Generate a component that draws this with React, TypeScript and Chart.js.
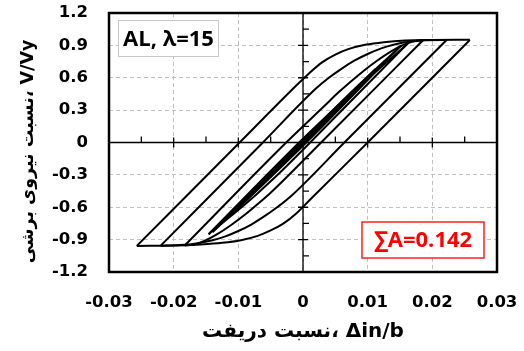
import React, { useEffect, useRef } from "react";
import { Chart, registerables } from "chart.js";

Chart.register(...registerables);

// ---- axis ticks ----
const xTickValues = [-0.03, -0.02, -0.01, 0, 0.01, 0.02, 0.03];
const xTickLabels = ["-0.03", "-0.02", "-0.01", "0", "0.01", "0.02", "0.03"];
const yTickValues = [-1.2, -0.9, -0.6, -0.3, 0, 0.3, 0.6, 0.9, 1.2];
const yTickLabels = ["-1.2", "-0.9", "-0.6", "-0.3", "0", "0.3", "0.6", "0.9", "1.2"];
const xMinorTicks = [-0.025, -0.015, -0.005, 0.005, 0.015, 0.025];
const yMinorTicks = [-1.05, -0.75, -0.45, -0.15, 0.15, 0.45, 0.75, 1.05];

// ---- hysteresis branches (drift ratio, V/Vy) ----
const loop1DownDrift = [-0.0257, -0.02, -0.0158, -0.0125, -0.0096, -0.007, -0.005, -0.003, -0.001, 0.001, 0.01, 0.0258];
const loop1DownForce = [-0.958, -0.955, -0.945, -0.93, -0.905, -0.865, -0.815, -0.75, -0.655, -0.535, 0.0, 0.95];
const loop1UpDrift = [-0.0257, -0.0098, -0.001, 0.001, 0.003, 0.005, 0.007, 0.0096, 0.0125, 0.0158, 0.02, 0.0258];
const loop1UpForce = [-0.958, 0.0, 0.53, 0.645, 0.745, 0.815, 0.865, 0.905, 0.93, 0.945, 0.95, 0.952];

const loop2DownDrift = [-0.022, -0.019, -0.0165, -0.014, -0.012, -0.01, -0.008, -0.006, -0.004, -0.002, 0.0064, 0.0222];
const loop2DownForce = [-0.956, -0.95, -0.935, -0.905, -0.87, -0.82, -0.76, -0.685, -0.6, -0.505, 0.0, 0.95];
const loop2UpDrift = [-0.022, -0.0062, 0.002, 0.004, 0.006, 0.008, 0.01, 0.012, 0.014, 0.0165, 0.019, 0.0222];
const loop2UpForce = [-0.956, 0.0, 0.5, 0.6, 0.685, 0.76, 0.82, 0.87, 0.905, 0.935, 0.948, 0.95];

const loop3DownDrift = [-0.0183, -0.0165, -0.015, -0.013, -0.011, -0.009, -0.007, -0.005, -0.003, 0.0028, 0.0186];
const loop3DownForce = [-0.955, -0.94, -0.905, -0.84, -0.76, -0.67, -0.57, -0.465, -0.35, 0.0, 0.95];
const loop3UpDrift = [-0.0183, -0.0026, 0.0035, 0.0055, 0.0075, 0.0095, 0.0115, 0.0135, 0.0155, 0.017, 0.0186];
const loop3UpForce = [-0.955, 0.0, 0.35, 0.465, 0.57, 0.67, 0.76, 0.84, 0.905, 0.935, 0.95];

const loop4DownDrift = [-0.0146, -0.013, -0.011, -0.009, -0.007, -0.005, -0.003, 0.0011, 0.0163];
const loop4DownForce = [-0.85, -0.77, -0.675, -0.575, -0.47, -0.36, -0.245, 0.0, 0.925];
const loop4UpDrift = [-0.0146, -0.0006, 0.004, 0.006, 0.008, 0.01, 0.012, 0.014, 0.0163];
const loop4UpForce = [-0.85, 0.0, 0.265, 0.375, 0.485, 0.59, 0.695, 0.8, 0.925];

const loop5DownDrift = [-0.014, -0.007, 0.0005, 0.0152];
const loop5DownForce = [-0.83, -0.435, 0.0, 0.9];
const loop5UpDrift = [-0.014, -0.0003, 0.007, 0.0152];
const loop5UpForce = [-0.83, 0.0, 0.44, 0.9];

const loop6DownDrift = [-0.0106, -0.005, 0.0003, 0.0112];
const loop6DownForce = [-0.64, -0.315, 0.0, 0.68];
const loop6UpDrift = [-0.0106, -0.0002, 0.005, 0.0112];
const loop6UpForce = [-0.64, 0.0, 0.31, 0.68];

const loop7DownDrift = [-0.007, 0.0002, 0.0072];
const loop7DownForce = [-0.42, 0.0, 0.44];
const loop7UpDrift = [-0.007, -0.0001, 0.0072];
const loop7UpForce = [-0.42, 0.0, 0.44];

const branches: [number[], number[]][] = [
  [loop1DownDrift, loop1DownForce], [loop1UpDrift, loop1UpForce],
  [loop2DownDrift, loop2DownForce], [loop2UpDrift, loop2UpForce],
  [loop3DownDrift, loop3DownForce], [loop3UpDrift, loop3UpForce],
  [loop4DownDrift, loop4DownForce], [loop4UpDrift, loop4UpForce],
  [loop5DownDrift, loop5DownForce], [loop5UpDrift, loop5UpForce],
  [loop6DownDrift, loop6DownForce], [loop6UpDrift, loop6UpForce],
  [loop7DownDrift, loop7DownForce], [loop7UpDrift, loop7UpForce],
];

const specimenLabel = "AL, λ=15";
const energyLabel = "∑A=0.142";
const xTitle = "نسبت دریفت، Δin/b";
const yTitle = "نسبت نیروی برشی، V/Vy";

const FONT = "'Open Sans', 'DejaVu Sans', sans-serif";
const TICK_FONT = "'DejaVu Sans', sans-serif";

const framePlugin = {
  id: "frameAxes",
  beforeDatasetsDraw(chart: any) {
    const { ctx, chartArea: a, scales } = chart;
    const xs = scales.x, ys = scales.y;
    const x0 = xs.getPixelForValue(0);
    const y0 = ys.getPixelForValue(0);
    ctx.save();
    ctx.strokeStyle = "#000";
    ctx.lineWidth = 1.3;
    ctx.beginPath();
    ctx.moveTo(a.left, y0); ctx.lineTo(a.right, y0);
    ctx.moveTo(x0, a.top); ctx.lineTo(x0, a.bottom);
    for (const v of xMinorTicks) {
      const px = xs.getPixelForValue(v);
      ctx.moveTo(px, y0); ctx.lineTo(px, y0 - 6);
    }
    for (const v of xTickValues) {
      const px = xs.getPixelForValue(v);
      ctx.moveTo(px, y0 - 5); ctx.lineTo(px, y0 + 5);
    }
    for (const v of yMinorTicks) {
      const py = ys.getPixelForValue(v);
      ctx.moveTo(x0, py); ctx.lineTo(x0 + 6, py);
    }
    for (const v of yTickValues) {
      const py = ys.getPixelForValue(v);
      ctx.moveTo(x0 - 5, py); ctx.lineTo(x0 + 5, py);
    }
    ctx.stroke();
    ctx.restore();
  },
  afterDraw(chart: any) {
    const { ctx, chartArea: a } = chart;
    ctx.save();
    // frame
    ctx.strokeStyle = "#000";
    ctx.lineWidth = 2.5;
    ctx.strokeRect(a.left, a.top, a.right - a.left, a.bottom - a.top);
    // y-axis title (rotated), centred a little below the plot middle as in the source
    ctx.save();
    ctx.translate(a.left - 81, (a.top + a.bottom) / 2 + 9);
    ctx.rotate(-Math.PI / 2);
    ctx.fillStyle = "#000";
    ctx.font = `bold 17.5px ${TICK_FONT}`;
    ctx.textAlign = "center";
    ctx.textBaseline = "middle";
    ctx.fillText(yTitle, 0, 0);
    ctx.restore();
    // specimen box
    const bx = a.left + 9.5, by = a.top + 7.5, bw = 100, bh = 36;
    ctx.fillStyle = "#fff";
    ctx.fillRect(bx, by, bw, bh);
    ctx.strokeStyle = "#c8c8c8";
    ctx.lineWidth = 1;
    ctx.strokeRect(bx, by, bw, bh);
    ctx.fillStyle = "#000";
    ctx.font = `bold 22px ${FONT}`;
    ctx.textAlign = "center";
    ctx.textBaseline = "middle";
    ctx.fillText(specimenLabel, bx + bw / 2, by + bh / 2 + 1);
    // energy box
    const ex = a.right - 135, ey = a.bottom - 50, ew = 122, eh = 36;
    ctx.fillStyle = "#fff";
    ctx.fillRect(ex, ey, ew, eh);
    ctx.strokeStyle = "#ff2020";
    ctx.lineWidth = 1.5;
    ctx.strokeRect(ex, ey, ew, eh);
    ctx.fillStyle = "#ff0000";
    ctx.font = `bold 22px ${FONT}`;
    ctx.fillText(energyLabel, ex + ew / 2, ey + eh / 2 + 1);
    ctx.restore();
  },
};

export default function App() {
  const ref = useRef<HTMLCanvasElement>(null);
  useEffect(() => {
    const datasets = branches.map(([dx, fy]) => ({
      data: dx.map((x, i) => ({ x, y: fy[i] })),
      showLine: true,
      borderColor: "#000",
      borderWidth: 2,
      pointRadius: 0,
      fill: false,
      cubicInterpolationMode: "monotone" as const,
    }));
    const chart = new Chart(ref.current!, {
      type: "scatter",
      data: { datasets },
      plugins: [framePlugin],
      options: {
        responsive: false,
        animation: false,
        devicePixelRatio: 1,
        layout: { padding: { top: 13, right: 27, left: 0, bottom: 0 } },
        plugins: { legend: { display: false }, tooltip: { enabled: false } },
        scales: {
          x: {
            type: "linear",
            min: -0.03,
            max: 0.03,
            afterBuildTicks: (s: any) => { s.ticks = xTickValues.map((value) => ({ value })); },
            afterFit: (s: any) => { s.height = 79; s.paddingLeft = 0; s.paddingRight = 0; },
            ticks: {
              callback: (_v: any, i: number) => xTickLabels[i],
              font: { family: TICK_FONT, size: 16.5, weight: "bold" },
              color: "#000",
              padding: 21,
              maxRotation: 0,
            },
            grid: { color: "#c0c0c0", lineWidth: 1, drawTicks: false },
            border: { display: false, dash: [4, 3] },
            title: {
              display: true,
              text: xTitle,
              font: { family: TICK_FONT, size: 20, weight: "bold" },
              color: "#000",
              padding: { top: 0, bottom: 7 },
            },
          },
          y: {
            type: "linear",
            min: -1.2,
            max: 1.2,
            afterBuildTicks: (s: any) => { s.ticks = yTickValues.map((value) => ({ value })); },
            afterFit: (s: any) => { s.width = 109; s.paddingTop = 0; s.paddingBottom = 0; },
            ticks: {
              callback: (_v: any, i: number) => yTickLabels[i],
              font: { family: TICK_FONT, size: 16.5, weight: "bold" },
              color: "#000",
              padding: 21,
            },
            grid: { color: "#c0c0c0", lineWidth: 1, drawTicks: false },
            border: { display: false, dash: [4, 3] },
            title: { display: false },
          },
        },
      },
    } as any);
    return () => chart.destroy();
  }, []);
  return (
    <div style={{ position: "absolute", left: 0, top: 0, width: 524, height: 351, background: "#fff" }}>
      <canvas ref={ref} width={524} height={351} style={{ display: "block" }} />
    </div>
  );
}
